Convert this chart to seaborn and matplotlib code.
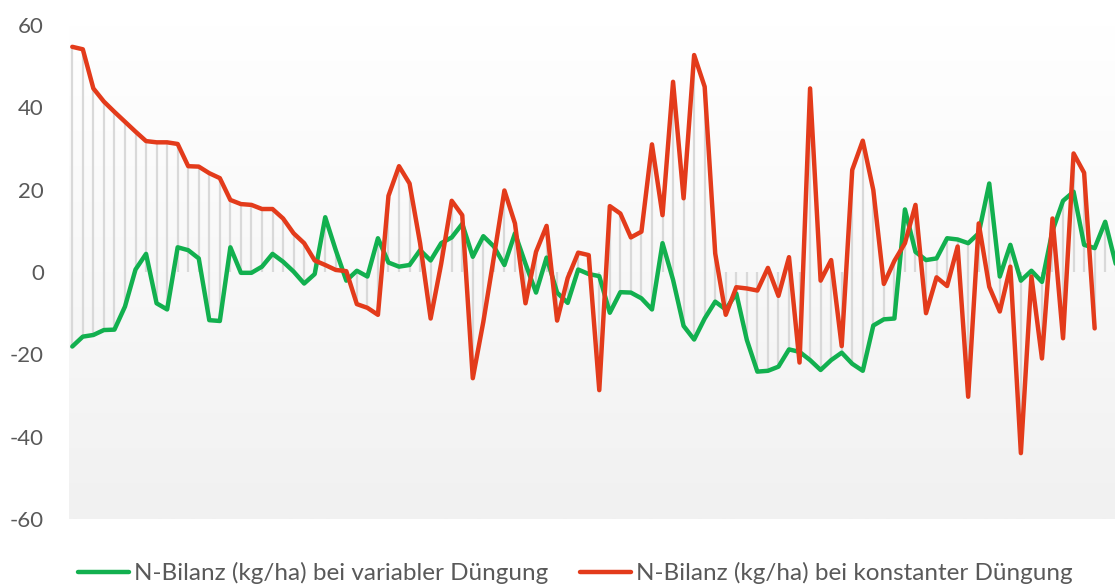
import matplotlib
matplotlib.use("Agg")
import matplotlib.pyplot as plt
import seaborn as sns
import numpy as np
import pandas as pd
from matplotlib.colors import LinearSegmentedColormap

# N-Bilanz (kg/ha) per Teilfläche
variabel = [-18.1, -15.7, -15.3, -14.1, -14.0, -8.4, 0.6, 4.4, -7.6, -9.1,
            6.0, 5.3, 3.3, -11.7, -11.9, 6.0, -0.2, -0.2, 1.3, 4.4,
            2.5, 0.1, -2.8, -0.5, 13.3, 5.3, -2.1, 0.3, -1.1, 8.2,
            2.3, 1.3, 1.7, 5.3, 2.8, 7.0, 8.4, 11.7, 3.7, 8.7,
            6.2, 1.7, 9.4, 2.0, -5.0, 3.5, -5.0, -7.5, 0.6, -0.5,
            -1.0, -9.9, -4.9, -5.0, -6.4, -9.1, 7.0, -1.9, -13.1, -16.4,
            -11.3, -7.2, -9.1, -5.2, -16.5, -24.2, -24.0, -23.0, -18.8, -19.4,
            -21.4, -23.8, -21.4, -19.6, -22.3, -24.0, -13.0, -11.5, -11.3, 15.2,
            4.9, 2.9, 3.3, 8.2, 7.9, 7.0, 9.4, 21.5, -1.1, 6.6,
            -2.1, 0.3, -2.4, 10.0, 17.3, 19.5, 6.6, 5.8, 12.2, 2.0]

konstant = [54.7, 54.1, 44.6, 41.4, 38.9, 36.5, 34.1, 31.8, 31.5, 31.5,
            31.1, 25.7, 25.6, 24.0, 22.8, 17.5, 16.5, 16.3, 15.3, 15.3,
            13.0, 9.4, 7.0, 2.8, 1.7, 0.5, 0.2, -7.8, -8.7, -10.4,
            18.5, 25.7, 21.5, 7.0, -11.3, 2.0, 17.3, 13.8, -25.8, -12.1,
            3.6, 19.8, 11.8, -7.6, 4.9, 11.2, -11.8, -1.5, 4.7, 4.1,
            -28.7, 16.0, 14.2, 8.4, 9.8, 31.0, 13.8, 46.2, 17.9, 52.7,
            45.0, 4.5, -10.4, -3.7, -4.0, -4.5, 1.0, -5.8, 3.6, -22.0,
            44.6, -2.1, 2.9, -18.0, 24.8, 31.9, 19.9, -2.9, 2.7, 7.0,
            16.3, -10.0, -1.3, -3.4, 6.2, -30.3, 11.8, -3.6, -9.6, 1.3,
            -44.0, -1.1, -21.0, 13.0, -16.1, 28.8, 24.1, -13.7, np.nan, np.nan]

label_var = "N-Bilanz (kg/ha) bei variabler Düngung"
label_kon = "N-Bilanz (kg/ha) bei konstanter Düngung"
yticks = [-60, -40, -20, 0, 20, 40, 60]

nr = np.arange(len(variabel))
df = pd.DataFrame({
    "Nr": np.concatenate([nr, nr]),
    "Bilanz": np.concatenate([variabel, konstant]),
    "Serie": [label_var] * len(nr) + [label_kon] * len(nr),
})

sns.set_style("white")
plt.rcParams["font.family"] = ["Lato", "DejaVu Sans"]

fig = plt.figure(figsize=(11.15, 5.87), dpi=100)
ax = fig.add_axes([69 / 1115, 1 - 519 / 587, 1 - 69 / 1115, (519 - 25) / 587])

xlim = (-0.31, 98.93)
ylim = (-60, 60)

# soft vertical gradient in the plot area
grad = LinearSegmentedColormap.from_list("bg", ["#ffffff", "#f1f1f1"])
ax.imshow(np.linspace(0, 1, 256).reshape(-1, 1), extent=[xlim[0], xlim[1], ylim[0], ylim[1]],
          aspect="auto", cmap=grad, zorder=0)

# high-low lines spanning both series and zero
v = np.array(variabel)
k = np.array(konstant)
lo = np.nanmin(np.vstack([v, k, np.zeros_like(v)]), axis=0)
hi = np.nanmax(np.vstack([v, k, np.zeros_like(v)]), axis=0)
ax.vlines(nr, lo, hi, color="#d9d9d9", linewidth=1.6, zorder=1)

sns.lineplot(data=df, x="Nr", y="Bilanz", hue="Serie",
             palette={label_var: "#12b04f", label_kon: "#e33b1b"},
             linewidth=3.2, ax=ax, zorder=3, legend=True)

ax.set_xlim(*xlim)
ax.set_ylim(*ylim)
ax.set_yticks(yticks)
ax.set_yticklabels([str(t) for t in yticks], color="#595959", fontsize=16)
ax.tick_params(axis="y", length=0, pad=18)
ax.set_xticks([])
ax.set_xlabel("")
ax.set_ylabel("")
for s in ax.spines.values():
    s.set_visible(False)

handles, labels = ax.get_legend_handles_labels()
ax.get_legend().remove()
fig.legend(handles, labels, loc="center", bbox_to_anchor=(0.5157, 1 - 573 / 587), ncol=2,
           frameon=False, fontsize=17.5, handlelength=2.1, handletextpad=0.2,
           columnspacing=1.3, labelcolor="#595959")

fig.savefig("out.png", dpi=100)
